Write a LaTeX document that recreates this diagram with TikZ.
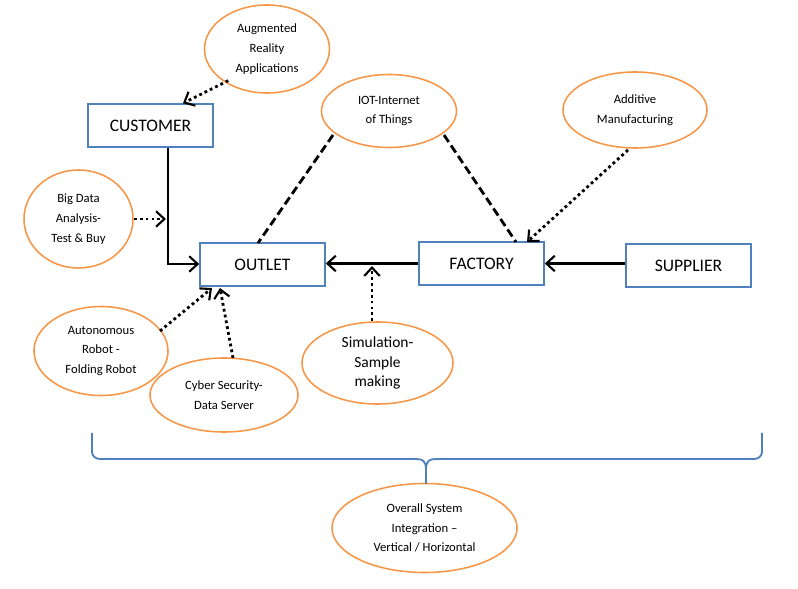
\documentclass[tikz,border=0pt]{standalone}
\usepackage{fontspec}
\setmainfont{Carlito}
\usetikzlibrary{arrows.meta,shapes}
\definecolor{boxblue}{RGB}{79,129,189}
\definecolor{ellorange}{RGB}{247,150,70}
\tikzstyle{unit} = [rectangle, draw=boxblue, line width=1.1pt, fill=white,
    minimum width=3.125cm, minimum height=1.075cm, font=\fontsize{12.5}{14}\selectfont]
\tikzstyle{tech} = [ellipse, draw=ellorange, line width=1.1pt, fill=white,
    inner sep=0pt, align=center, font=\fontsize{9}{14}\selectfont]
\tikzstyle{flow} = [line width=2pt, -{Straight Barb[length=6pt,width=11pt,line width=1.5pt]}]
\tikzstyle{feed} = [line width=2pt, dash pattern=on 2pt off 2.2pt,
    -{Straight Barb[length=6pt,width=11pt,line width=1.5pt]}]
\tikzstyle{link} = [line width=2pt, dash pattern=on 6pt off 3pt]

\begin{document}
\begin{tikzpicture}[x=0.025cm,y=-0.025cm]
  \useasboundingbox (0,0) rectangle (798,589);

  \node[unit] (cust)     at (150.5,125.5) {CUSTOMER};
  \node[unit] (outlet)   at (262.5,264.5) {OUTLET};
  \node[unit] (factory)  at (481.5,263.5) {FACTORY};
  \node[unit] (supplier) at (688.5,265.5) {SUPPLIER};

  \node[tech, minimum width=3.125cm, minimum height=2.2cm]  (ar)   at (267,49)  {Augmented\\Reality\\Applications};
  \node[tech, minimum width=3.375cm, minimum height=1.825cm] (iot)  at (389,111) {IOT-Internet\\of Things};
  \node[tech, minimum width=3.6cm, minimum height=1.9cm]    (am)   at (635,110) {Additive\\Manufacturing};
  \node[tech, minimum width=2.725cm, minimum height=2.45cm] (bd)   at (78.5,219) {Big Data\\Analysis-\\Test \& Buy};
  \node[tech, minimum width=3.35cm, minimum height=2.225cm] (auto) at (101,351) {Autonomous\\Robot -\\Folding Robot};
  \node[tech, minimum width=3.7cm, minimum height=1.85cm]   (cyber) at (224,395) {Cyber Security-\\Data Server};
  \node[tech, minimum width=3.775cm, minimum height=2.05cm, font=\fontsize{11}{14}\selectfont] (sim) at (377.5,363) {Simulation-\\Sample\\making};
  \node[tech, minimum width=4.625cm, minimum height=2.225cm] (osi)  at (424.5,528) {Overall System\\Integration --\\Vertical / Horizontal};

  \coordinate (bend) at (168,264);
  \coordinate (bdjoin) at (166,219);
  \coordinate (simjoin) at (372,266);

  % main flow
  \draw[flow] (supplier.west |- factory) -- (factory);
  \draw[flow] (factory) -- (outlet.east |- factory);
  \draw[flow] (cust.south -| bend) -- (bend) -- (outlet.west |- bend);

  % technologies
  \draw[feed] (ar.south west) ++(6,0) -- (cust.north -| 183,0);
  \draw[feed] (bd.east) -- (bdjoin);
  \draw[feed] (sim.north -| simjoin) -- (simjoin);
  \draw[feed] (am) ++(-7,40) -- (527,242);
  \draw[feed] (auto) ++(59,-20) -- (212,288);
  \draw[feed] (cyber) ++(9,-37) -- (220,288);
  \draw[link] (iot) ++(-56,24) -- (258,243);
  \draw[link] (iot) ++(55,24) -- (516,242);

  % brace
  \draw[boxblue, line width=1.3pt] (92,433) -- (92,452) to[out=-90,in=180] (100,459)
    -- (416,459) .. controls (423,459) and (426,461) .. (426,470) -- (426,484);
  \draw[boxblue, line width=1.3pt] (762,433) -- (762,452) to[out=-90,in=0] (754,459)
    -- (436,459) .. controls (429,459) and (426,461) .. (426,470);
\end{tikzpicture}
\end{document}
